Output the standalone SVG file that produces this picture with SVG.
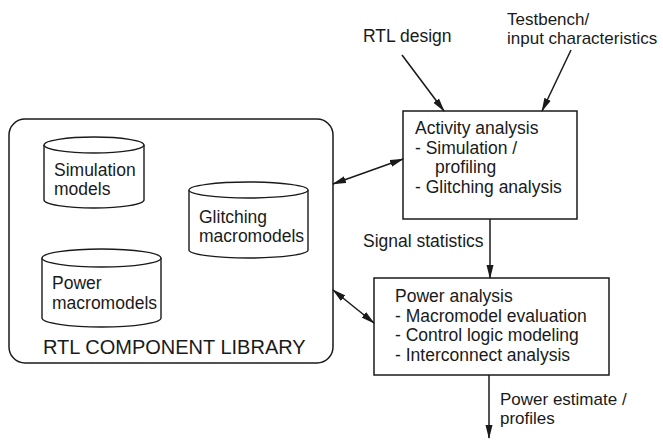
<svg xmlns="http://www.w3.org/2000/svg" width="663" height="440" viewBox="0 0 663 440">
  <style>
    text { font-family: "Liberation Sans", Arial, sans-serif; font-size: 17.5px; fill: #1a1a1a; }
    .tight { font-size: 17px; }
    .box { fill: #ffffff; stroke: #1a1a1a; stroke-width: 1.5; }
    .cyl { fill: #ffffff; stroke: #1a1a1a; stroke-width: 1.4; }
    .edge { fill: none; stroke: #1a1a1a; stroke-width: 1.5; }
    .title { font-size: 20px; }
  </style>
  <defs>
    <marker id="arrow" viewBox="0 0 14 8" refX="13" refY="4" markerWidth="14" markerHeight="8" markerUnits="userSpaceOnUse" orient="auto-start-reverse">
      <path d="M0,0.5 L14,4 L0,7.5 Z" fill="#1a1a1a"/>
    </marker>
  </defs>

  <rect width="663" height="440" fill="#ffffff"/>

  <!-- component library container -->
  <g id="library">
    <rect class="box" x="9" y="119" width="324" height="244" rx="16" ry="16"/>
    <text class="title" x="43" y="354">RTL COMPONENT LIBRARY</text>
  </g>

  <g id="simulation-models">
    <path class="cyl" d="M44,145 L44,200 A50,8 0 0 0 144,200 L144,145"/>
    <ellipse class="cyl" cx="94" cy="145" rx="50" ry="8"/>
    <text x="54" y="176">Simulation</text>
    <text x="54" y="195">models</text>
  </g>

  <g id="glitching-macromodels">
    <path class="cyl" d="M189,190 L189,250 A59.5,8 0 0 0 308,250 L308,190"/>
    <ellipse class="cyl" cx="248.5" cy="190" rx="59.5" ry="8"/>
    <text x="199" y="223">Glitching</text>
    <text x="199" y="242">macromodels</text>
  </g>

  <g id="power-macromodels">
    <path class="cyl" d="M42,258 L42,318 A59.5,9 0 0 0 161,318 L161,258"/>
    <ellipse class="cyl" cx="101.5" cy="258" rx="59.5" ry="9"/>
    <text x="52" y="289">Power</text>
    <text x="52" y="309">macromodels</text>
  </g>

  <!-- inputs -->
  <g id="rtl-design">
    <text x="363" y="42">RTL design</text>
  </g>
  <g id="testbench">
    <text class="tight" x="507" y="25">Testbench/</text>
    <text class="tight" x="507" y="44">input characteristics</text>
  </g>

  <g id="activity-analysis">
    <rect class="box" x="403" y="111" width="174" height="108"/>
    <text x="415" y="134">Activity analysis</text>
    <text x="415" y="154"> - Simulation /</text>
    <text x="435" y="173">profiling</text>
    <text x="415" y="193"> - Glitching analysis</text>
  </g>

  <g id="power-analysis">
    <rect class="box" x="374" y="278" width="235" height="97"/>
    <text x="395" y="302">Power analysis</text>
    <text x="395" y="322"> - Macromodel evaluation</text>
    <text x="395" y="341"> - Control logic modeling</text>
    <text x="395" y="361"> - Interconnect analysis</text>
  </g>

  <g id="power-estimate">
    <text class="tight" x="500" y="405">Power estimate /</text>
    <text class="tight" x="500" y="424">profiles</text>
  </g>

  <g id="connectors">
    <line class="edge" x1="402" y1="55" x2="444" y2="111" marker-end="url(#arrow)"/>
    <line class="edge" x1="571" y1="50" x2="542" y2="111" marker-end="url(#arrow)"/>
    <line class="edge" x1="333" y1="184" x2="403" y2="159" marker-start="url(#arrow)" marker-end="url(#arrow)"/>
    <line class="edge" x1="333" y1="290" x2="374" y2="323" marker-start="url(#arrow)" marker-end="url(#arrow)"/>
    <line class="edge" x1="490" y1="219" x2="490" y2="278" marker-end="url(#arrow)"/>
    <text x="363" y="247">Signal statistics</text>
    <line class="edge" x1="489" y1="375" x2="489" y2="438" marker-end="url(#arrow)"/>
  </g>
</svg>
